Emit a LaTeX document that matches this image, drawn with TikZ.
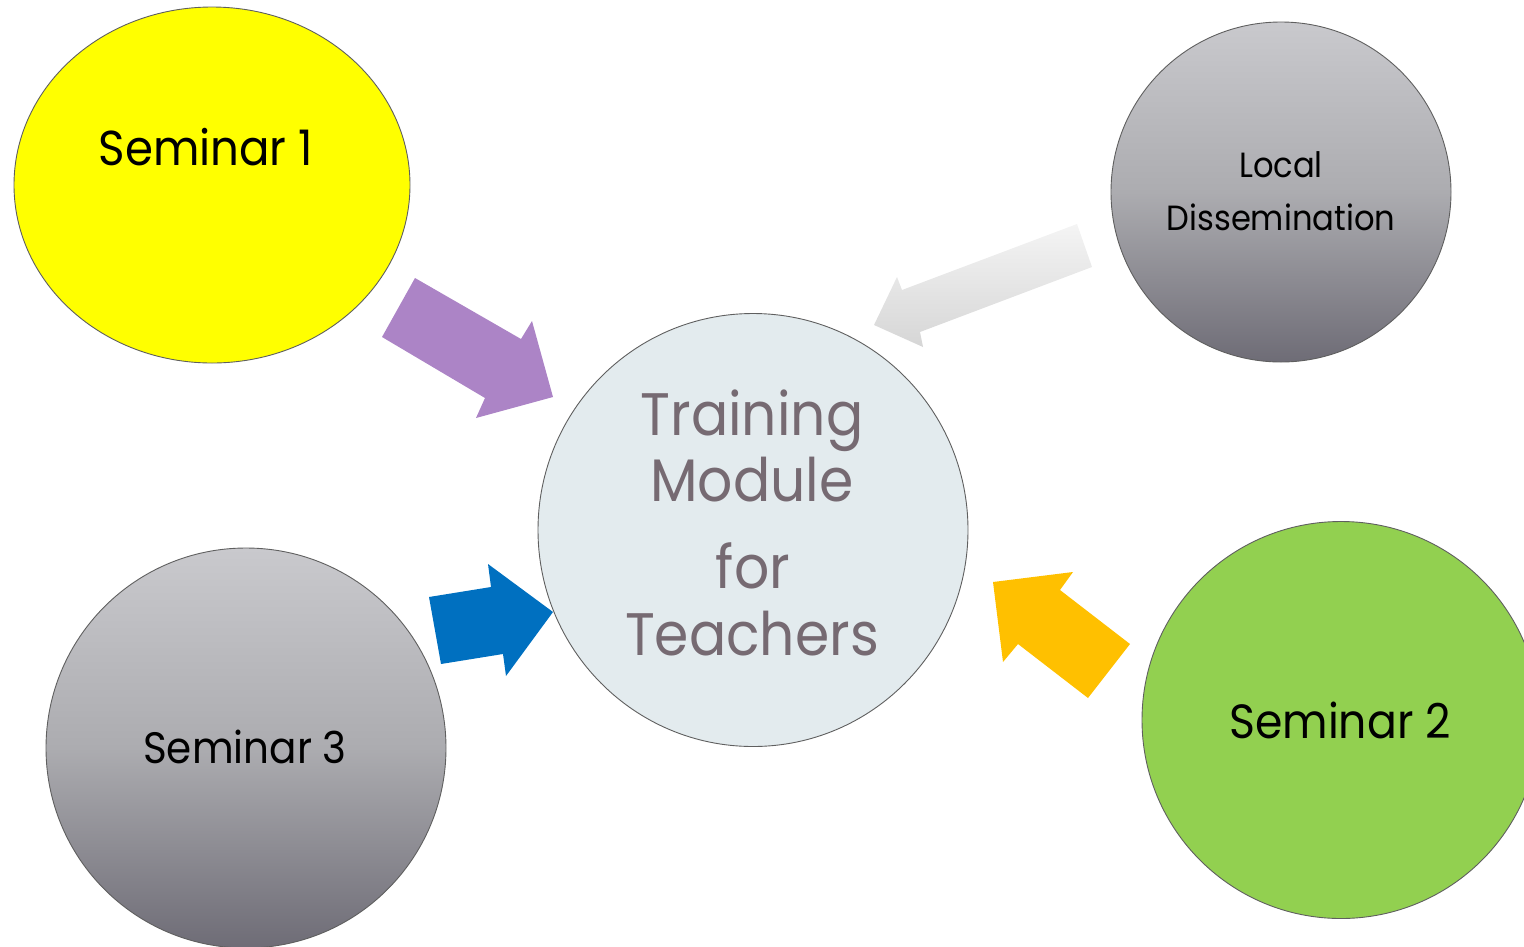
\documentclass[tikz,border=0pt]{standalone}
\usepackage{fontspec}
\setmainfont{Poppins}[FakeStretch=0.92]
\usetikzlibrary{shapes.geometric}
\definecolor{yel}{RGB}{255,255,0}
\definecolor{grn}{RGB}{146,208,80}
\definecolor{purp}{RGB}{172,132,198}
\definecolor{blu}{RGB}{0,112,192}
\definecolor{orng}{RGB}{255,192,0}
\definecolor{ctr}{RGB}{227,235,238}
\definecolor{ctrtext}{RGB}{118,106,114}
\definecolor{gtop}{RGB}{201,201,205}
\definecolor{gmid}{RGB}{172,172,176}
\definecolor{gbot}{RGB}{110,108,118}
\definecolor{ltop}{RGB}{244,244,244}
\definecolor{lbot}{RGB}{214,214,214}
\definecolor{rim}{RGB}{95,95,95}
\tikzset{
  bubble/.style={ellipse, draw=rim, line width=0.9pt, inner sep=0pt, outer sep=0pt},
  graybubble/.style={bubble, top color=gtop, bottom color=gbot, middle color=gmid},
  lbl/.style={anchor=base, inner sep=0pt, text=black},
  clbl/.style={anchor=base, inner sep=0pt, text=ctrtext, font=\fontsize{60}{60}\selectfont}
}
\begin{document}
\begin{tikzpicture}[x=1pt,y=-1pt]
\useasboundingbox (0,0) rectangle (1524,946);
% bubbles
\node[bubble, fill=yel, minimum width=396pt, minimum height=356pt] (s1) at (212,185) {};
\node[graybubble, minimum width=340pt, minimum height=340pt] (ld) at (1281,192) {};
\node[graybubble, minimum width=400pt, minimum height=400pt] (s3) at (246,748) {};
\node[bubble, fill=grn, minimum width=398pt, minimum height=397pt] (s2) at (1341,720) {};
\node[bubble, fill=ctr, minimum width=430pt, minimum height=433pt] (tm) at (753,530) {};
% labels
\node[lbl, font=\fontsize{49}{49}\selectfont] (s1t) at (206,165) {Seminar 1};
\node[lbl, font=\fontsize{35}{35}\selectfont] (ldt1) at (1281,177) {Local};
\node[lbl, font=\fontsize{35}{35}\selectfont] (ldt2) at (1281,230) {Dissemination};
\node[lbl, font=\fontsize{44}{44}\selectfont] (s3t) at (245,763) {Seminar 3};
\node[lbl, font=\fontsize{48}{48}\selectfont] (s2t) at (1340,738) {Seminar 2};
\node[clbl] (tm1) at (752,435) {Training};
\node[clbl] (tm2) at (752,501) {Module};
\node[clbl] (tm3) at (753,588) {for};
\node[clbl] (tm4) at (752,655) {Teachers};
% block arrows
\fill[purp] (415,278) -- (521,339) -- (532,321) -- (553,397) -- (476,418) -- (485,398) -- (382,337) -- cycle;
\shade[top color=ltop, bottom color=lbot] (1077,224) -- (1092,267) -- (920,332) -- (923,347) -- (874,325) -- (897,277) -- (902,290) -- cycle;
\fill[blu] (429,597) -- (491,587) -- (488,564) -- (553,612) -- (506,676) -- (503,654) -- (441,664) -- cycle;
\fill[orng] (993,582) -- (1073,572) -- (1060,590) -- (1130,644) -- (1088,698) -- (1018,644) -- (1003,662) -- cycle;
\end{tikzpicture}
\end{document}
